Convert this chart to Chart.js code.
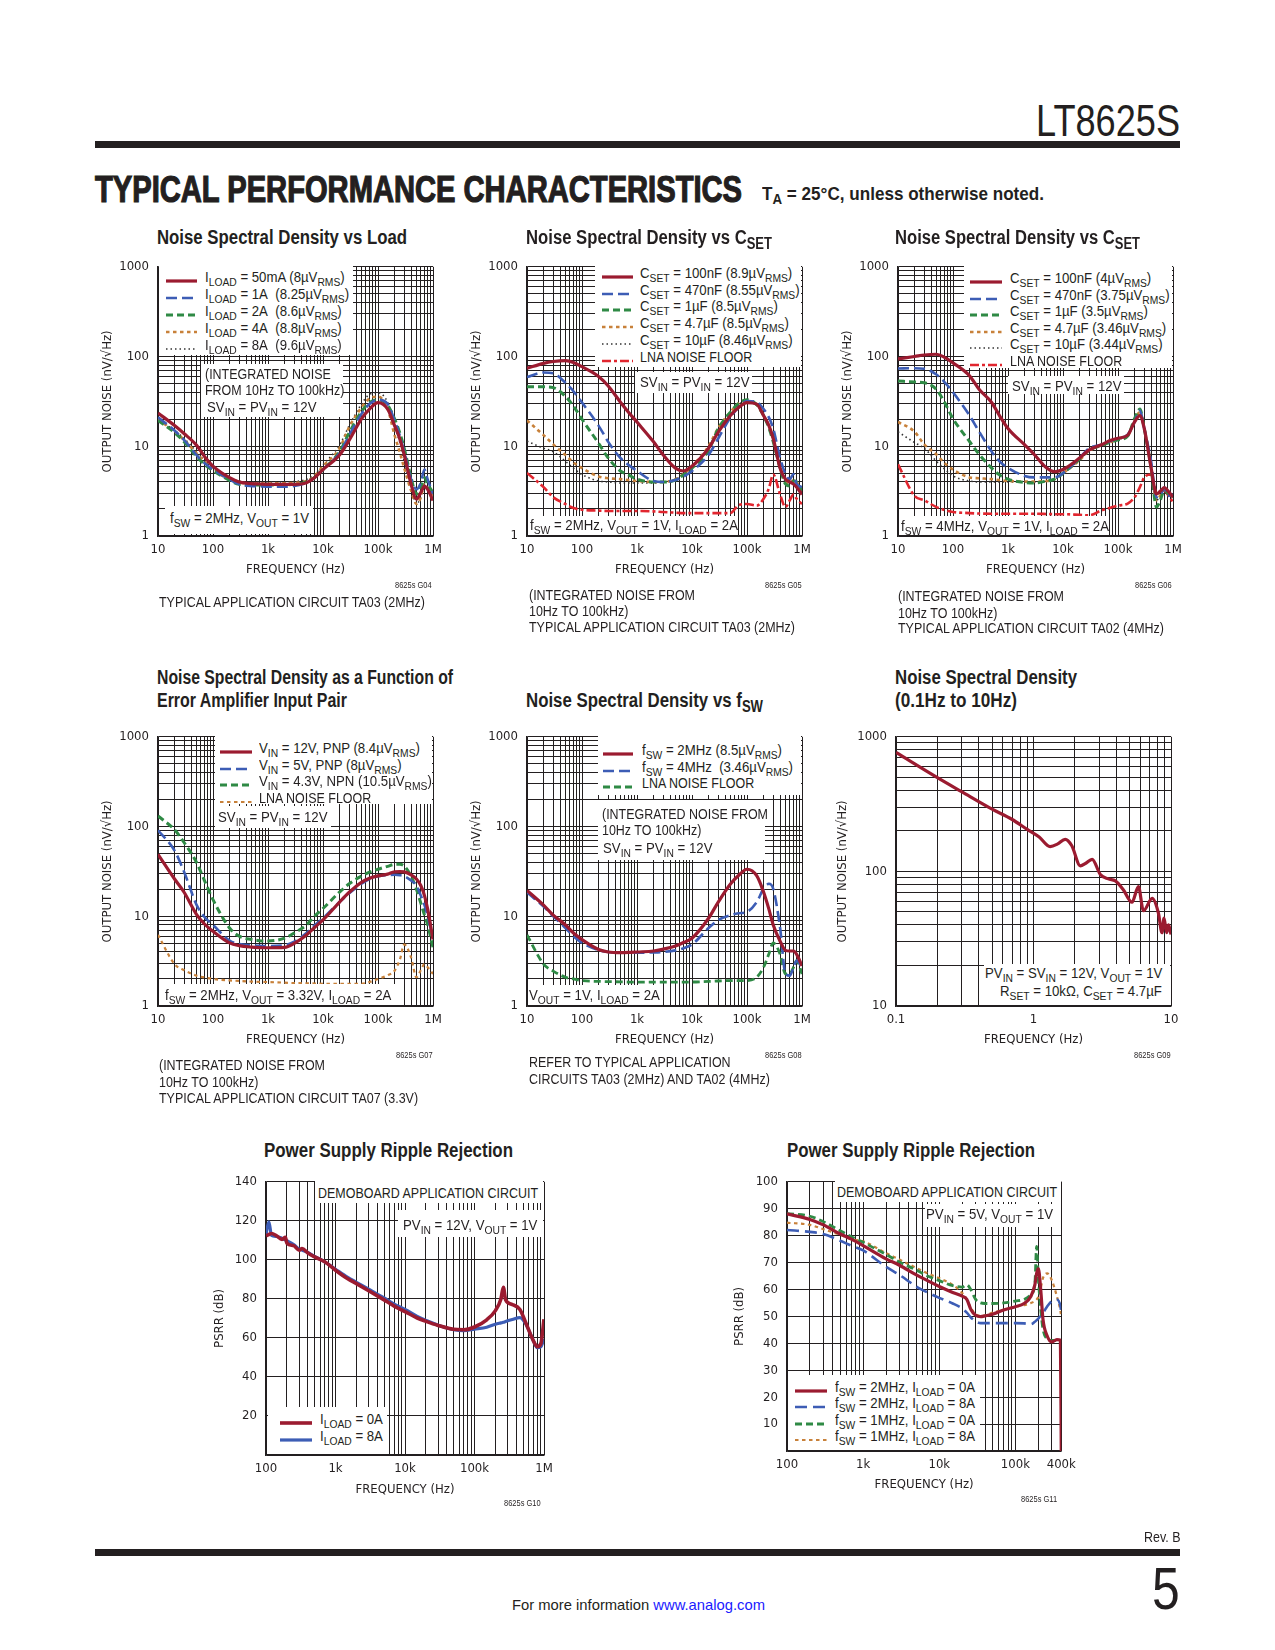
<!DOCTYPE html>
<html lang="en">
<head>
<meta charset="UTF-8">
<title>LT8625S Typical Performance Characteristics</title>
<script src="https://cdn.jsdelivr.net/npm/chart.js@4.4.1/dist/chart.umd.min.js"></script>
<style>
  body { margin: 0; background: #fff; }
  #page { position: relative; width: 1275px; height: 1650px; overflow: hidden; color: #231f20;
          font-family: "Liberation Sans", Arial, sans-serif; }
  #page div, #page canvas { position: absolute; }
  .t { white-space: nowrap; font-size: 15px; line-height: 16px; }
  .h { white-space: nowrap; font-size: 20px; line-height: 24px; font-weight: bold; }
  .g { white-space: nowrap; font-size: 9px; line-height: 10px; }
  .big { white-space: nowrap; font-size: 44px; line-height: 48px; }
  .sec { white-space: nowrap; font-size: 36px; line-height: 40px; font-weight: bold; -webkit-text-stroke: 1.2px #231f20; }
  .s1 { white-space: nowrap; font-size: 18px; line-height: 22px; font-weight: bold; }
  .pg { white-space: nowrap; font-size: 60px; line-height: 64px; }
  .bx { background: #fff; }
  .rule { background: #231f20; }
  sub { font-size: 78%; vertical-align: -0.3em; line-height: 0; }
</style>
</head>
<body>
<div id="page"></div>
<script>
const INK = '#231f20';
const FONT = '"Liberation Sans Narrow", "DejaVu Sans Condensed", "Arial Narrow", sans-serif';

// line styles
const ST = {
  red:    { color: '#9b1b30', width: 3.2, dash: [] },
  blue:   { color: '#3d5db5', width: 2.6, dash: [11, 5] },
  green:  { color: '#2f8a45', width: 3, dash: [7, 4] },
  orange: { color: '#c8813a', width: 2.6, dash: [3.5, 3.5] },
  black:  { color: '#333333', width: 1.6, dash: [1.5, 3] },
  lna:    { color: '#e1262f', width: 2.6, dash: [9, 3, 3, 3] },
  red7:   { color: '#9b1b30', width: 3.6, dash: [] },
  blue7:  { color: '#3d5db5', width: 3.2, dash: [] },
  oshort: { color: '#c8813a', width: 2.2, dash: [3.5, 3.5] },
  gdash:  { color: '#2f8a45', width: 2.8, dash: [7, 4] },
  blong:  { color: '#3d5db5', width: 2.6, dash: [12, 6] }
};

// ---- data ----
const freqNoise = [10, 20, 30, 50, 70, 100, 200, 300, 500, 700, 1000, 2000, 3000, 5000, 7000, 10000, 20000, 30000, 50000, 70000,
                   100000, 150000, 200000, 250000, 300000, 400000, 500000, 600000, 700000, 800000, 1000000];

// G04 noise vs load
const load50mA = [23.5, 17, 13.8, 10.3, 7.7, 6.0, 4.46, 4.0, 3.83, 3.8, 3.77, 3.77, 3.77, 3.93, 4.46, 5.5, 8.0, 11.7, 20.2, 26, 30.7, 26, 17, 12, 8, 3.77, 2.58, 3.05, 3.6, 3.3, 2.48];
const load1A   = [21, 15, 11.7, 8.0, 6.5, 5.5, 4.27, 3.77, 3.6, 3.58, 3.55, 3.55, 3.6, 3.93, 4.46, 5.5, 8.4, 13.3, 22.9, 29.5, 32.9, 29.5, 19.4, 13, 8.7, 4.27, 3.32, 3.93, 5.5, 4.27, 2.93];
const load2A   = [19.4, 14.2, 11.2, 7.7, 6.3, 5.36, 4.17, 3.77, 3.7, 3.7, 3.7, 3.72, 3.77, 4.0, 4.5, 5.5, 8.7, 14.2, 24.3, 30.7, 33, 28.7, 20.2, 14, 9.5, 4.46, 2.93, 3.46, 4.46, 3.77, 3.05];
const load4A   = [19.8, 14.7, 11.7, 8.4, 6.8, 5.5, 4.27, 3.93, 3.85, 3.85, 3.85, 3.87, 3.9, 4.1, 4.65, 6.0, 9.5, 16.4, 27, 34, 35.7, 26, 13.3, 8.5, 5.7, 3.2, 2.28, 2.7, 3.77, 3.46, 2.8];
const load8A   = [20.2, 15, 12.2, 8.7, 6.9, 5.7, 4.46, 4.1, 4.0, 4.0, 4.0, 4.0, 4.05, 4.27, 4.85, 6.2, 10.3, 17, 29.5, 37.9, 39.5, 30.7, 17, 11, 6.8, 3.46, 2.28, 2.7, 3.6, 3.3, 2.58];
const loadLabels = ['I<sub>LOAD</sub> = 50mA (8µV<sub>RMS</sub>)', 'I<sub>LOAD</sub> = 1A&nbsp; (8.25µV<sub>RMS</sub>)',
  'I<sub>LOAD</sub> = 2A&nbsp; (8.6µV<sub>RMS</sub>)', 'I<sub>LOAD</sub> = 4A&nbsp; (8.8µV<sub>RMS</sub>)', 'I<sub>LOAD</sub> = 8A&nbsp; (9.6µV<sub>RMS</sub>)'];

// G05 noise vs CSET, 2MHz
const cset2M100n = [74, 84, 88, 90, 86, 77, 60, 47, 31, 24, 18.6, 11.2, 8.0, 5.7, 5.3, 6.0, 9.5, 14.4, 22, 27, 30.7, 29.5, 22, 17, 12.2, 5.7, 4.3, 4.0, 3.8, 3.5, 2.9];
const cset2M470n = [59, 66.5, 65, 51, 41, 30.7, 17, 11.2, 7.4, 6.2, 5.3, 4.1, 4.0, 4.2, 4.6, 5.3, 8.0, 12.2, 21, 27, 32, 31, 26, 21, 15.7, 7.4, 4.9, 4.3, 4.9, 3.8, 3.5];
const cset2M1u   = [46, 46, 45, 36, 28, 20, 10.8, 7.4, 5.3, 4.8, 4.3, 4.0, 4.0, 4.2, 4.8, 5.7, 9.0, 15.7, 24, 30, 33, 29, 22, 16, 11.2, 5.7, 3.8, 3.6, 4.1, 4.0, 3.2];
const cset2M4u7  = [19.4, 13.3, 10.5, 8.0, 6.6, 5.7, 4.6, 4.4, 4.3, 4.2, 4.1, 4.0, 4.0, 4.3, 4.9, 6.0, 10, 16, 24, 30, 32, 29, 22, 17, 12, 5.7, 4.0, 3.8, 4.2, 4.0, 3.1];
const cset2M10u  = [11.4, 9.5, 8.7, 6.8, 5.7, 4.85, 4.1, 4.0, 3.9, 3.9, 3.9, 3.9, 4.0, 4.3, 4.8, 5.8, 9.5, 15, 23, 29, 32, 29, 22, 17, 12, 5.7, 4.0, 3.8, 4.2, 4.0, 3.1];
const lna2M      = [5.05, 3.5, 2.7, 2.27, 2.05, 1.96, 1.92, 1.9, 1.9, 1.9, 1.9, 1.88, 1.85, 1.82, 1.8, 1.8, 1.8, 1.8, 1.8, 2.2, 2.27, 2.18, 2.6, 3.4, 4.85, 2.9, 2.1, 2.5, 2.9, 2.6, 2.27];
const cset2MLabels = ['C<sub>SET</sub> = 100nF (8.9µV<sub>RMS</sub>)', 'C<sub>SET</sub> = 470nF (8.55µV<sub>RMS</sub>)',
  'C<sub>SET</sub> = 1µF (8.5µV<sub>RMS</sub>)', 'C<sub>SET</sub> = 4.7µF (8.5µV<sub>RMS</sub>)', 'C<sub>SET</sub> = 10µF (8.46µV<sub>RMS</sub>)', 'LNA NOISE FLOOR'];

// G06 noise vs CSET, 4MHz
const cset4M100n = [94, 100, 104, 106, 98, 85, 61, 43, 31, 22, 15.8, 10.4, 8.1, 5.75, 5.2, 5.5, 7.4, 9.1, 10.4, 11.5, 12.3, 13.3, 18.7, 22, 15.8, 5.75, 2.94, 3.2, 3.47, 3.2, 2.7];
const cset4M470n = [73.6, 74, 73, 63, 52, 40, 22, 14.5, 8.8, 6.8, 5.75, 4.67, 4.5, 4.5, 4.5, 5.0, 7.4, 9.5, 10.4, 11.3, 12.3, 13.5, 18.7, 25, 15.8, 6.8, 2.7, 2.9, 3.47, 2.8, 2.9];
const cset4M1u   = [53.5, 52, 51, 43, 31, 20.3, 11.3, 8.1, 5.75, 4.8, 4.3, 3.94, 3.9, 4.1, 4.3, 5.0, 7.2, 9.1, 10.2, 11, 11.8, 13, 20.3, 26, 15.8, 5.75, 2.1, 2.6, 3.3, 3.0, 2.7];
const cset4M4u7  = [18.7, 14.5, 10.5, 8.1, 6.5, 5.5, 4.5, 4.4, 4.3, 4.2, 4.1, 4.05, 4.05, 4.1, 4.3, 5.0, 7.0, 8.9, 10.2, 11, 12, 13, 19.5, 24, 15.8, 5.75, 2.5, 2.9, 3.5, 3.1, 2.8];
const cset4M10u  = [14.5, 11, 9.5, 6.8, 5.6, 4.67, 4.1, 4.0, 4.0, 4.0, 4.0, 4.0, 4.0, 4.1, 4.3, 5.0, 7.1, 9.0, 10.2, 11, 12, 13, 19, 24, 15.8, 5.75, 2.5, 2.9, 3.5, 3.1, 2.8];
const lna4M      = [6.3, 2.8, 2.5, 2.1, 1.95, 1.85, 1.8, 1.78, 1.77, 1.77, 1.77, 1.77, 1.77, 1.76, 1.75, 1.75, 1.72, 1.7, 1.93, 2.05, 2.18, 2.3, 2.7, 3.5, 4.5, 4.85, 2.94, 2.8, 3.2, 2.9, 2.38];
const cset4MLabels = ['C<sub>SET</sub> = 100nF (4µV<sub>RMS</sub>)', 'C<sub>SET</sub> = 470nF (3.75µV<sub>RMS</sub>)',
  'C<sub>SET</sub> = 1µF (3.5µV<sub>RMS</sub>)', 'C<sub>SET</sub> = 4.7µF (3.46µV<sub>RMS</sub>)', 'C<sub>SET</sub> = 10µF (3.44µV<sub>RMS</sub>)', 'LNA NOISE FLOOR'];

// G07 error amplifier input pair
const vin12Pnp  = [49, 26, 18.4, 10.5, 8.2, 6.8, 5.05, 4.7, 4.53, 4.48, 4.46, 4.5, 5.0, 6.2, 7.5, 9.1, 14.4, 18.5, 23.9, 26.5, 28.2, 29.5, 31.3, 31.5, 31.3, 29, 26, 22, 17, 12, 5.5];
const vin5Pnp   = [91, 54, 31, 13.5, 9.8, 8.0, 5.36, 4.9, 4.75, 4.68, 4.65, 4.75, 5.2, 6.5, 7.9, 9.5, 14.4, 18, 23, 26, 28, 28.8, 29, 28.7, 28, 25, 22, 17, 13.3, 10, 5.7];
const vin43Npn  = [131, 92, 66, 40, 25, 15.3, 7.4, 6.0, 5.5, 5.35, 5.3, 5.7, 6.5, 8.0, 10, 12.2, 18.6, 23, 28, 31, 33.4, 36, 37.9, 38, 36.3, 28, 20, 14, 10.3, 8, 4.5];
const lnaPair   = [6.2, 2.93, 2.5, 2.18, 2.08, 2.0, 1.93, 1.9, 1.87, 1.86, 1.85, 1.82, 1.8, 1.79, 1.78, 1.77, 1.77, 1.77, 1.77, 1.85, 2.0, 2.2, 2.47, 3.3, 4.85, 3.46, 2.09, 2.5, 2.93, 2.7, 2.28];
const pairLabels = ['V<sub>IN</sub> = 12V, PNP (8.4µV<sub>RMS</sub>)', 'V<sub>IN</sub> = 5V, PNP (8µV<sub>RMS</sub>)',
  'V<sub>IN</sub> = 4.3V, NPN (10.5µV<sub>RMS</sub>)', 'LNA NOISE FLOOR'];

// G08 noise vs fSW
const fsw2M   = [19.4, 13.3, 10.3, 8.0, 6.5, 5.5, 4.27, 4.0, 3.93, 3.95, 4.0, 4.1, 4.3, 4.65, 5.1, 5.7, 9.5, 14.4, 22.9, 28.5, 33.4, 28.3, 18.6, 12, 8.0, 5.27, 4.17, 4.1, 4.1, 3.77, 2.8];
const fsw4M   = [18.5, 12.8, 10, 7.4, 6.0, 5.05, 4.2, 4.0, 3.93, 3.93, 3.93, 3.95, 4.0, 4.17, 4.4, 4.85, 7.4, 9.1, 10.3, 10.8, 11.2, 14.4, 20.2, 23, 20.2, 7.4, 2.3, 2.18, 2.7, 3.2, 2.7];
const lnaFsw  = [6.2, 2.93, 2.45, 2.09, 2.0, 1.92, 1.88, 1.87, 1.86, 1.85, 1.85, 1.85, 1.85, 1.85, 1.85, 1.85, 1.88, 1.9, 1.92, 1.92, 1.92, 2.09, 2.7, 3.8, 5.05, 3.77, 2.28, 2.3, 2.7, 3.2, 2.28];
const fswLabels = ['f<sub>SW</sub> = 2MHz (8.5µV<sub>RMS</sub>)', 'f<sub>SW</sub> = 4MHz&nbsp; (3.46µV<sub>RMS</sub>)', 'LNA NOISE FLOOR'];

// G09 0.1Hz to 10Hz
const freqLow  = [0.1, 0.2, 0.3, 0.5, 0.7, 0.9, 1.1, 1.32, 1.5, 1.7, 1.9, 2.19, 2.4, 2.67, 3.06, 3.5, 3.94, 4.5, 5.2, 5.8, 6.3, 7.3, 8.1, 8.6, 8.9, 9.3, 9.6, 10];
const noiseLow = [765, 497, 391, 290, 243, 205, 180, 153, 160, 173, 155, 110, 115, 123, 95, 88, 85, 73, 59, 77, 51, 63, 49, 35, 45, 35, 40, 34];

// G10 PSRR, PVIN = 12V
const freqPsrr12 = [100, 110, 120, 140, 170, 190, 200, 250, 300, 330, 400, 500, 700, 1000, 1500, 2000, 3000, 5000, 7000, 10000, 15000, 20000,
                    30000, 50000, 70000, 100000, 150000, 200000, 240000, 260000, 280000, 350000, 450000, 550000, 700000, 800000, 900000, 1000000];
const psrr12Load0 = [112.3, 113, 113.5, 112.5, 110.5, 111.5, 108.5, 107.3, 105, 105.8, 103.5, 101.5, 99, 94.7, 90.3, 87.8, 84.2, 79.5, 76.3, 73.5, 70.2, 68.5,
                     66.4, 64.4, 64.2, 65.6, 69.3, 74, 80, 86, 79.6, 77.1, 74.6, 67.5, 58.7, 55.5, 57, 69.6];
const psrr12Load8 = [113, 119.5, 112.5, 112, 111, 110.2, 109.8, 107.8, 105.5, 105, 103.8, 101.8, 99, 95.2, 91, 88.5, 85, 80.5, 77.3, 74.6, 71, 69,
                     66.5, 64.2, 63.7, 64.5, 65.5, 67, 67.7, 68, 68.4, 69.4, 70.4, 67, 58.7, 55, 55.5, 59.5];
const psrr12Labels = ['I<sub>LOAD</sub> = 0A', 'I<sub>LOAD</sub> = 8A'];

// G11 PSRR, PVIN = 5V
const freqPsrr5 = [100, 200, 300, 500, 700, 1000, 2000, 3000, 5000, 7000, 10000, 15000, 20000, 23000, 26000, 30000, 35000, 40000, 50000,
                   70000, 100000, 130000, 160000, 180000, 190000, 200000, 215000, 230000, 260000, 300000, 350000, 390000, 400000];
const psrr5Fsw2Load0 = [88.1, 86, 84, 80.6, 78.7, 76.3, 71.4, 69, 65.4, 63.3, 61.1, 58.9, 57.5, 56.3, 52.6, 50.4, 49.9, 50.2, 50.8,
                        52.4, 53.6, 54.8, 57.5, 61.7, 66, 67.8, 59.9, 49, 42.9, 40.5, 41.4, 41.2, 0];
const psrr5Fsw2Load8 = [82.1, 81.4, 80.6, 78.1, 76.3, 74.5, 68.4, 65.4, 61.1, 58.9, 56.9, 54.8, 52.9, 51.4, 49.6, 48.2, 47.5, 47.5, 47.5,
                        47.5, 47.5, 47.4, 47.1, 48, 48.6, 49.2, 50.2, 51.2, 53.6, 55.7, 56.3, 53.8, 51.4];
const psrr5Fsw1Load0 = [88.2, 87.2, 85.2, 81.8, 79.6, 77.5, 73, 70.2, 67.2, 65, 63.3, 61.4, 60.9, 61.7, 59.9, 56.3, 55, 54.8, 54.8,
                        55, 55.7, 56.3, 58.1, 62, 76, 64, 52.6, 45.3, 41.7, 41.1, 41.1, 41.1, 41.1];
const psrr5Fsw1Load8 = [84.8, 84, 82.4, 80.3, 78.7, 77.9, 73.5, 71.1, 68, 66, 64.2, 61.7, 58.7, 56.3, 53.2, 50.8, 50.2, 50.4, 51.4,
                        52.4, 53.6, 54.2, 55, 55.7, 56.3, 57.2, 60.5, 64.2, 66, 63.5, 57.5, 52, 49.6];
const psrr5Labels = ['f<sub>SW</sub> = 2MHz, I<sub>LOAD</sub> = 0A', 'f<sub>SW</sub> = 2MHz, I<sub>LOAD</sub> = 8A',
  'f<sub>SW</sub> = 1MHz, I<sub>LOAD</sub> = 0A', 'f<sub>SW</sub> = 1MHz, I<sub>LOAD</sub> = 8A'];

// ---- helpers ----
const page = document.getElementById('page');
let K = 0.84;   // horizontal squeeze for a condensed look

function txt(x, yc, html, o = {}) {
  const d = document.createElement('div');
  d.className = o.cls || 't';
  d.innerHTML = html;
  page.appendChild(d);
  const lh = parseFloat(getComputedStyle(d).lineHeight);
  d.style.top = (yc - lh / 2) + 'px';
  const w = d.getBoundingClientRect().width;
  const k = o.w ? o.w / w : (html.indexOf('<sub>') >= 0 ? K * 1.06 : K);
  const sw = w * k;
  d.style.left = (o.right ? x - sw : o.center ? x - sw / 2 : x) + 'px';
  d.style.transformOrigin = 'left center';
  d.style.transform = 'scaleX(' + k.toFixed(4) + ')';
  return d;
}

// calibrate squeeze on a line whose width is known from the sheet
(function () {
  const probe = txt(0, -100, 'TYPICAL APPLICATION CIRCUIT TA03 (2MHz)', { w: 1 });
  probe.style.transform = 'none';
  K = 266 / probe.getBoundingClientRect().width;
  probe.remove();
})();

function rect(l, t, w, h, cls) {
  const d = document.createElement('div');
  d.className = cls || 'bx';
  Object.assign(d.style, { left: l + 'px', top: t + 'px', width: w + 'px', height: h + 'px' });
  page.appendChild(d);
}

function sample(x, yc, w, st) {
  const d = document.createElement('div');
  d.style.left = x + 'px';
  d.style.top = (yc - 5) + 'px';
  d.innerHTML = '<svg width="' + w + '" height="10"><line x1="0" y1="5" x2="' + w + '" y2="5" stroke="' + st.color +
    '" stroke-width="' + st.width + '" stroke-dasharray="' + (st.dash.length ? st.dash.join(' ') : 'none') + '"/></svg>';
  page.appendChild(d);
}

// box [l,t,w,h], sample x/width, text x, first row centre, row step
function legend(box, sx, sw, tx, y0, dy, styles, labels) {
  rect(box[0], box[1], box[2], box[3]);
  labels.forEach((lab, i) => {
    sample(sx, y0 + i * dy, sw, styles[i]);
    txt(tx, y0 + i * dy, lab);
  });
}

function logTicks(min, max) {
  const out = [];
  for (let e = Math.floor(Math.log10(min)); e <= Math.ceil(Math.log10(max)); e++) {
    for (let m = 1; m < 10; m++) {
      const v = +(m * Math.pow(10, e)).toPrecision(6);
      if (v >= min * 0.999999 && v <= max * 1.000001) out.push({ value: v });
    }
  }
  return out;
}
const isDecade = v => Math.abs(Math.log10(v) - Math.round(Math.log10(v))) < 1e-6;
const fmtHz = v => v >= 1e6 ? (v / 1e6) + 'M' : v >= 1e3 ? (v / 1e3) + 'k' : String(v);

function axis(kind, isX, min, max, fmt, title, tpad, step) {
  const a = {
    type: kind, min: min, max: max,
    grid: { color: INK, lineWidth: 1, drawTicks: false },
    border: { color: INK, width: 1.5 },
    ticks: { autoSkip: false, maxRotation: 0, padding: isX ? 6.2 : 9, color: INK, font: { family: FONT, size: 13 }, callback: fmt },
    title: { display: true, text: title, color: INK, font: { family: FONT, size: 13 },
             padding: isX ? { top: 0, bottom: tpad } : { top: tpad, bottom: 0 } },
    afterFit: isX ? s => { s.height = 48; } : s => { s.width = 70; }
  };
  if (kind === 'logarithmic') a.afterBuildTicks = s => { s.ticks = logTicks(min, max); };
  if (step) a.ticks.stepSize = step;
  return a;
}

function series(label, xs, ys, st) {
  return { label: label, data: xs.map((x, i) => ({ x: x, y: ys[i] })), borderColor: st.color, borderWidth: st.width,
           borderDash: st.dash, pointRadius: 0, fill: false, cubicInterpolationMode: 'monotone' };
}
const plain = s => s.replace(/<[^>]+>/g, '').replace(/&nbsp;/g, ' ');

// plot area r = [left, top, width, height] on the page
function makeChart(r, xAxis, yAxis, sets) {
  const cv = document.createElement('canvas');
  cv.width = r[2] + 90; cv.height = r[3] + 60;
  cv.style.left = (r[0] - 70) + 'px'; cv.style.top = (r[1] - 12) + 'px';
  page.appendChild(cv);
  new Chart(cv, {
    type: 'line',
    data: { datasets: sets },
    options: {
      responsive: false, animation: false, devicePixelRatio: 1,
      layout: { padding: { left: 0, top: 12, right: 20, bottom: 0 } },
      plugins: { legend: { display: false }, tooltip: { enabled: false } },
      scales: { x: xAxis, y: yAxis }
    }
  });
}

const noiseY = () => axis('logarithmic', false, 1, 1000, v => isDecade(v) ? String(v) : '', 'OUTPUT NOISE (nV/√Hz)', 12.2);
const noiseX = () => axis('logarithmic', true, 10, 1e6, v => isDecade(v) ? fmtHz(v) : '', 'FREQUENCY (Hz)', 6.2);

// ---- header ----
txt(1180, 121, 'LT8625S', { cls: 'big', right: true, w: 144 });
rect(95, 141, 1085, 7, 'rule');
txt(95, 190, 'TYPICAL PERFORMANCE CHARACTERISTICS', { cls: 'sec', w: 647 });
txt(762, 194, 'T<sub>A</sub> = 25°C, unless otherwise noted.', { cls: 's1', w: 282 });

// ---- G04 ----
const R1 = [158, 262, 275, 274];
const st1 = [ST.red, ST.blue, ST.green, ST.orange, ST.black];
makeChart(R1, noiseX(), noiseY(),
  [load50mA, load1A, load2A, load4A, load8A].map((d, i) => series(plain(loadLabels[i]), freqNoise, d, st1[i])));
txt(157, 237, 'Noise Spectral Density vs Load', { cls: 'h', w: 250 });
legend([159, 264, 194, 91], 166, 31, 205, 277, 17, st1, loadLabels);
rect(201, 364, 142, 53);
txt(205, 374, '(INTEGRATED NOISE');
txt(205, 390, 'FROM 10Hz TO 100kHz)');
txt(207, 407, 'SV<sub>IN</sub> = PV<sub>IN</sub> = 12V');
rect(165, 506, 148, 28);
txt(170, 518, 'f<sub>SW</sub> = 2MHz, V<sub>OUT</sub> = 1V');
txt(432, 585, '8625s G04', { cls: 'g', right: true });
txt(159, 602, 'TYPICAL APPLICATION CIRCUIT TA03 (2MHz)');

// ---- G05 ----
const R2 = [527, 262, 275, 274];
const st2 = [ST.red, ST.blue, ST.green, ST.orange, ST.black, ST.lna];
makeChart(R2, noiseX(), noiseY(),
  [cset2M100n, cset2M470n, cset2M1u, cset2M4u7, cset2M10u, lna2M].map((d, i) => series(plain(cset2MLabels[i]), freqNoise, d, st2[i])));
txt(526, 237, 'Noise Spectral Density vs C<sub>SET</sub>', { cls: 'h', w: 246 });
legend([595, 264, 206, 103], 602, 31, 640, 273, 16.7, st2, cset2MLabels);
rect(635, 372, 117, 21);
txt(640, 382, 'SV<sub>IN</sub> = PV<sub>IN</sub> = 12V');
rect(528, 516, 208, 19);
txt(530, 525, 'f<sub>SW</sub> = 2MHz, V<sub>OUT</sub> = 1V, I<sub>LOAD</sub> = 2A');
txt(802, 585, '8625s G05', { cls: 'g', right: true });
txt(529, 595, '(INTEGRATED NOISE FROM');
txt(529, 611, '10Hz TO 100kHz)');
txt(529, 627, 'TYPICAL APPLICATION CIRCUIT TA03 (2MHz)');

// ---- G06 ----
const R3 = [898, 262, 275, 274];
makeChart(R3, noiseX(), noiseY(),
  [cset4M100n, cset4M470n, cset4M1u, cset4M4u7, cset4M10u, lna4M].map((d, i) => series(plain(cset4MLabels[i]), freqNoise, d, st2[i])));
txt(895, 237, 'Noise Spectral Density vs C<sub>SET</sub>', { cls: 'h', w: 245 });
legend([964, 264, 208, 104], 970, 32, 1010, 278, 16.6, st2, cset4MLabels);
rect(1008, 376, 116, 18);
txt(1012, 386, 'SV<sub>IN</sub> = PV<sub>IN</sub> = 12V');
rect(899, 516, 209, 19);
txt(901, 526, 'f<sub>SW</sub> = 4MHz, V<sub>OUT</sub> = 1V, I<sub>LOAD</sub> = 2A');
txt(1172, 585, '8625s G06', { cls: 'g', right: true });
txt(898, 596, '(INTEGRATED NOISE FROM');
txt(898, 613, '10Hz TO 100kHz)');
txt(898, 628, 'TYPICAL APPLICATION CIRCUIT TA02 (4MHz)');

// ---- G07 ----
const R4 = [158, 732, 275, 274];
const st4 = [ST.red, ST.blue, ST.green, ST.oshort];
makeChart(R4, noiseX(), noiseY(),
  [vin12Pnp, vin5Pnp, vin43Npn, lnaPair].map((d, i) => series(plain(pairLabels[i]), freqNoise, d, st4[i])));
txt(157, 677, 'Noise Spectral Density as a Function of', { cls: 'h', w: 296 });
txt(157, 700, 'Error Amplifier Input Pair', { cls: 'h', w: 190 });
legend([215, 733, 217, 71], 220, 32, 259, 748, 16.5, st4, pairLabels);
rect(215, 806, 116, 22);
txt(218, 817, 'SV<sub>IN</sub> = PV<sub>IN</sub> = 12V');
rect(160, 984, 237, 21);
txt(165, 995, 'f<sub>SW</sub> = 2MHz, V<sub>OUT</sub> = 3.32V, I<sub>LOAD</sub> = 2A');
txt(433, 1055, '8625s G07', { cls: 'g', right: true });
txt(159, 1065, '(INTEGRATED NOISE FROM');
txt(159, 1082, '10Hz TO 100kHz)');
txt(159, 1098, 'TYPICAL APPLICATION CIRCUIT TA07 (3.3V)');

// ---- G08 ----
const R5 = [527, 732, 275, 274];
const st5 = [ST.red, ST.blue, ST.gdash];
makeChart(R5, noiseX(), noiseY(),
  [fsw2M, fsw4M, lnaFsw].map((d, i) => series(plain(fswLabels[i]), freqNoise, d, st5[i])));
txt(526, 700, 'Noise Spectral Density vs f<sub>SW</sub>', { cls: 'h', w: 237 });
legend([598, 733, 203, 62], 603, 30, 642, 750, 16.5, st5, fswLabels);
rect(598, 800, 167, 60);
txt(602, 814, '(INTEGRATED NOISE FROM');
txt(602, 830, '10Hz TO 100kHz)');
txt(603, 848, 'SV<sub>IN</sub> = PV<sub>IN</sub> = 12V');
rect(528, 985, 134, 20);
txt(529, 995, 'V<sub>OUT</sub> = 1V, I<sub>LOAD</sub> = 2A');
txt(802, 1055, '8625s G08', { cls: 'g', right: true });
txt(529, 1062, 'REFER TO TYPICAL APPLICATION');
txt(529, 1079, 'CIRCUITS TA03 (2MHz) AND TA02 (4MHz)');

// ---- G09 ----
const R6 = [896, 732, 275, 274];
makeChart(R6,
  axis('logarithmic', true, 0.1, 10, v => isDecade(v) ? String(v) : '', 'FREQUENCY (Hz)', 6.2),
  axis('logarithmic', false, 10, 1000, v => isDecade(v) ? String(v) : '', 'OUTPUT NOISE (nV/√Hz)', 9.2),
  [series('Output noise', freqLow, noiseLow, ST.red)]);
txt(895, 677, 'Noise Spectral Density', { cls: 'h', w: 182 });
txt(895, 700, '(0.1Hz to 10Hz)', { cls: 'h', w: 122 });
rect(984, 964, 186, 41);
txt(1162, 973, 'PV<sub>IN</sub> = SV<sub>IN</sub> = 12V, V<sub>OUT</sub> = 1V', { right: true });
txt(1162, 991, 'R<sub>SET</sub> = 10kΩ, C<sub>SET</sub> = 4.7µF', { right: true });
txt(1171, 1055, '8625s G09', { cls: 'g', right: true });

// ---- G10 ----
const R7 = [266, 1177, 278, 278];
const st7 = [ST.red7, ST.blue7];
makeChart(R7,
  axis('logarithmic', true, 100, 1e6, v => isDecade(v) ? fmtHz(v) : '', 'FREQUENCY (Hz)', 5.2),
  axis('linear', false, 0, 140, v => v === 0 ? '' : String(v), 'PSRR (dB)', 16.2, 20),
  [psrr12Load0, psrr12Load8].map((d, i) => series(plain(psrr12Labels[i]), freqPsrr12, d, st7[i])));
txt(264, 1150, 'Power Supply Ripple Rejection', { cls: 'h', w: 249 });
rect(315, 1179, 228, 24);
txt(318, 1193, 'DEMOBOARD APPLICATION CIRCUIT');
rect(398, 1210, 145, 27);
txt(537, 1225, 'PV<sub>IN</sub> = 12V, V<sub>OUT</sub> = 1V', { right: true });
legend([268, 1407, 119, 47], 280, 32, 320, 1419, 17, st7, psrr12Labels);
txt(541, 1503, '8625s G10', { cls: 'g', right: true });

// ---- G11 ----
const R8 = [787, 1177, 275, 274];
const st8 = [ST.red, ST.blong, ST.gdash, ST.oshort];
makeChart(R8,
  axis('logarithmic', true, 100, 4e5, v => (isDecade(v) || v === 400000) ? fmtHz(v) : '', 'FREQUENCY (Hz)', 6.2),
  axis('linear', false, 0, 100, v => v === 0 ? '' : String(v), 'PSRR (dB)', 15.2, 10),
  [psrr5Fsw2Load0, psrr5Fsw2Load8, psrr5Fsw1Load0, psrr5Fsw1Load8].map((d, i) => series(plain(psrr5Labels[i]), freqPsrr5, d, st8[i])));
txt(787, 1150, 'Power Supply Ripple Rejection', { cls: 'h', w: 248 });
rect(835, 1179, 226, 23);
txt(837, 1192, 'DEMOBOARD APPLICATION CIRCUIT');
rect(925, 1204, 136, 23);
txt(1053, 1214, 'PV<sub>IN</sub> = 5V, V<sub>OUT</sub> = 1V', { right: true });
legend([788, 1375, 192, 75], 795, 32, 835, 1387, 16.3, st8, psrr5Labels);
txt(1057, 1499, '8625s G11', { cls: 'g', right: true });

// ---- footer ----
txt(1180, 1537, 'Rev. B', { cls: 't', right: true });
rect(95, 1549, 1085, 7, 'rule');
txt(1180, 1589, '5', { cls: 'pg', right: true });
txt(638, 1605, 'For more information <span style="color:#1a1aff">www.analog.com</span>', { center: true, w: 253 });
</script>
</body>
</html>
